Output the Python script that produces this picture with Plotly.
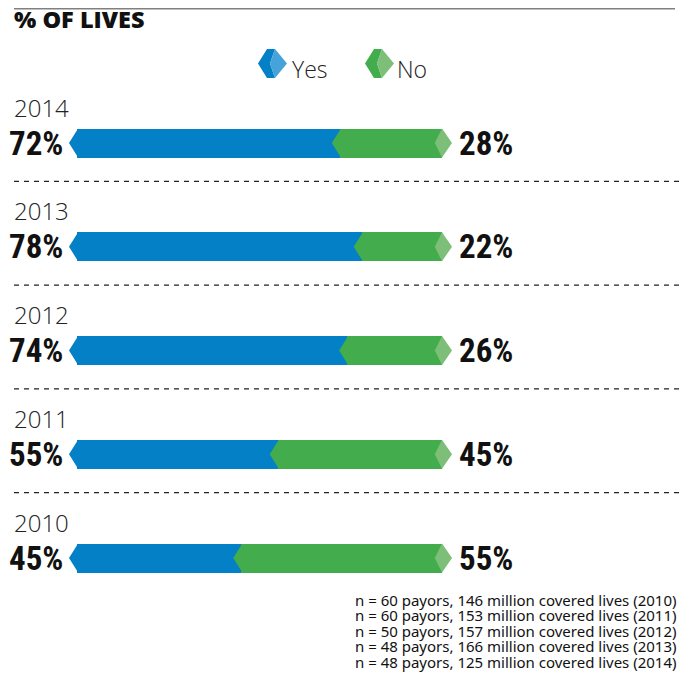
import plotly.graph_objects as go

years = ['2010', '2011', '2012', '2013', '2014']
yes = [45, 55, 74, 78, 72]
no = [55, 45, 26, 22, 28]
notes = [
    'n = 60 payors, 146 million covered lives (2010)',
    'n = 60 payors, 153 million covered lives (2011)',
    'n = 50 payors, 157 million covered lives (2012)',
    'n = 48 payors, 166 million covered lives (2013)',
    'n = 48 payors, 125 million covered lives (2014)',
]

# the page body has an 8px margin, so the figure is a bit smaller than the window
OFF = 8
W, H = 689 - OFF, 684 - OFF
BLUE = '#0480c6'
BLUE_LIGHT = '#45a3d9'
GREEN = '#43ad4d'
GREEN_LIGHT = '#7dbf78'
COND = 'Roboto Condensed, DejaVu Sans Condensed, sans-serif'
LIGHT = 'Open Sans, Noto Sans, sans-serif'
BODY = 'Noto Sans, Open Sans, sans-serif'

PX_PER_PCT = 3.65
X0 = 77
ROW0_PX = 558
ROW_PX = 103.75
bar_h = 29 / ROW_PX
tip = 8 / PX_PER_PCT

rows = list(range(len(years)))


def xp(px):
    return (px - OFF) / W


def yp(py):
    return 1 - (py - OFF) / H


fig = go.Figure()

fig.add_trace(go.Bar(
    y=rows, x=yes, orientation='h', width=bar_h,
    marker=dict(color=BLUE, line=dict(width=0)),
    hoverinfo='skip', showlegend=False,
))
fig.add_trace(go.Bar(
    y=rows, x=no, base=yes, orientation='h', width=bar_h,
    marker=dict(color=GREEN, line=dict(width=0)),
    hoverinfo='skip', showlegend=False,
))


def polys(points_fn):
    xs, ys = [], []
    for i in rows:
        for px, py in points_fn(i):
            xs.append(px)
            ys.append(py)
        xs.append(None)
        ys.append(None)
    return xs, ys


h = bar_h / 2
tot = [a + b for a, b in zip(yes, no)]
# pointed left end, green arrow into the blue, light chevron cap on the right
lx, ly = polys(lambda i: [(0.3, i + h), (-tip, i), (0.3, i - h)])
nx, ny = polys(lambda i: [(yes[i] + 0.3, i + h), (yes[i] - tip, i), (yes[i] + 0.3, i - h)])
rx, ry = polys(lambda i: [(tot[i], i + h), (tot[i] + tip * 1.25, i),
                          (tot[i], i - h), (tot[i] - tip * 0.9, i)])

for xs, ys, col in [(lx, ly, BLUE), (nx, ny, GREEN), (rx, ry, GREEN_LIGHT)]:
    fig.add_trace(go.Scatter(
        x=xs, y=ys, mode='lines', fill='toself', fillcolor=col,
        line=dict(width=0, color=col), hoverinfo='skip', showlegend=False,
    ))

annotations = []
shapes = []
for i in rows:
    annotations.append(dict(
        x=xp(12), xref='paper', y=i + 36 / ROW_PX, yref='y',
        text=years[i], showarrow=False, xanchor='left', yanchor='middle',
        font=dict(family=LIGHT, size=24, color='#222222', weight=300),
    ))
    annotations.append(dict(
        x=-tip - 1, y=i, text=f'{yes[i]}%',
        showarrow=False, xanchor='right', yanchor='middle',
        font=dict(family=COND, size=33, color='#111111', weight='bold'),
    ))
    annotations.append(dict(
        x=tot[i] + tip * 1.25 + 1.5, y=i, text=f'{no[i]}%',
        showarrow=False, xanchor='left', yanchor='middle',
        font=dict(family=COND, size=33, color='#111111', weight='bold'),
    ))
    if i > 0:
        yv = i - 0.37
        shapes.append(dict(
            type='line', xref='paper', x0=xp(14), x1=1, yref='y', y0=yv, y1=yv,
            line=dict(color='#222222', width=1.2, dash='5px,5px'),
        ))

# grey rule along the top
shapes.append(dict(type='line', xref='paper', yref='paper',
                   x0=xp(14), x1=xp(675), y0=1 - 0.75 / H, y1=1 - 0.75 / H,
                   line=dict(color='#808080', width=1.5)))


def pp(x, y):
    return f'{xp(x):.5f},{yp(y):.5f}'


def legend_icon(x, dark, light):
    cy, t, b = 63.5, 49, 78
    d = 'M' + ' L'.join([pp(x, cy), pp(x + 9, t), pp(x + 17, t),
                         pp(x + 12, cy), pp(x + 17, b), pp(x + 9, b)]) + ' Z'
    l = 'M' + ' L'.join([pp(x + 17, t), pp(x + 29, cy), pp(x + 17, b),
                         pp(x + 12, cy)]) + ' Z'
    return [dict(type='path', xref='paper', yref='paper', path=d,
                 fillcolor=dark, line=dict(width=0)),
            dict(type='path', xref='paper', yref='paper', path=l,
                 fillcolor=light, line=dict(width=0))]


shapes += legend_icon(258, BLUE, BLUE_LIGHT)
shapes += legend_icon(365, GREEN, GREEN_LIGHT)

for label, lx_px in [('Yes', 290), ('No', 395)]:
    annotations.append(dict(
        x=xp(lx_px), xref='paper', y=yp(69), yref='paper', text=label,
        showarrow=False, xanchor='left', yanchor='middle',
        font=dict(family=LIGHT, size=23, color='#222222', weight=300),
    ))

annotations.append(dict(
    x=xp(12), xref='paper', y=yp(19), yref='paper', text='% OF LIVES',
    showarrow=False, xanchor='left', yanchor='middle',
    font=dict(family='Open Sans', size=23.5, color='#111111', weight=800),
))

for k, line in enumerate(notes):
    annotations.append(dict(
        x=xp(679), xref='paper', y=yp(600 + 15.4 * k), yref='paper',
        text=line, showarrow=False, xanchor='right', yanchor='middle',
        font=dict(family=BODY, size=15, color='#111111'),
    ))

fig.update_layout(
    width=W, height=H,
    barmode='stack',
    margin=dict(l=0, r=0, t=0, b=0),
    paper_bgcolor='white', plot_bgcolor='white',
    xaxis=dict(range=[(OFF - X0) / PX_PER_PCT, (689 - X0) / PX_PER_PCT],
               visible=False, fixedrange=True),
    yaxis=dict(range=[(ROW0_PX - 684) / ROW_PX, (ROW0_PX - OFF) / ROW_PX],
               visible=False, fixedrange=True),
    annotations=annotations,
    shapes=shapes,
    showlegend=False,
)

fig.write_html("out.html")
